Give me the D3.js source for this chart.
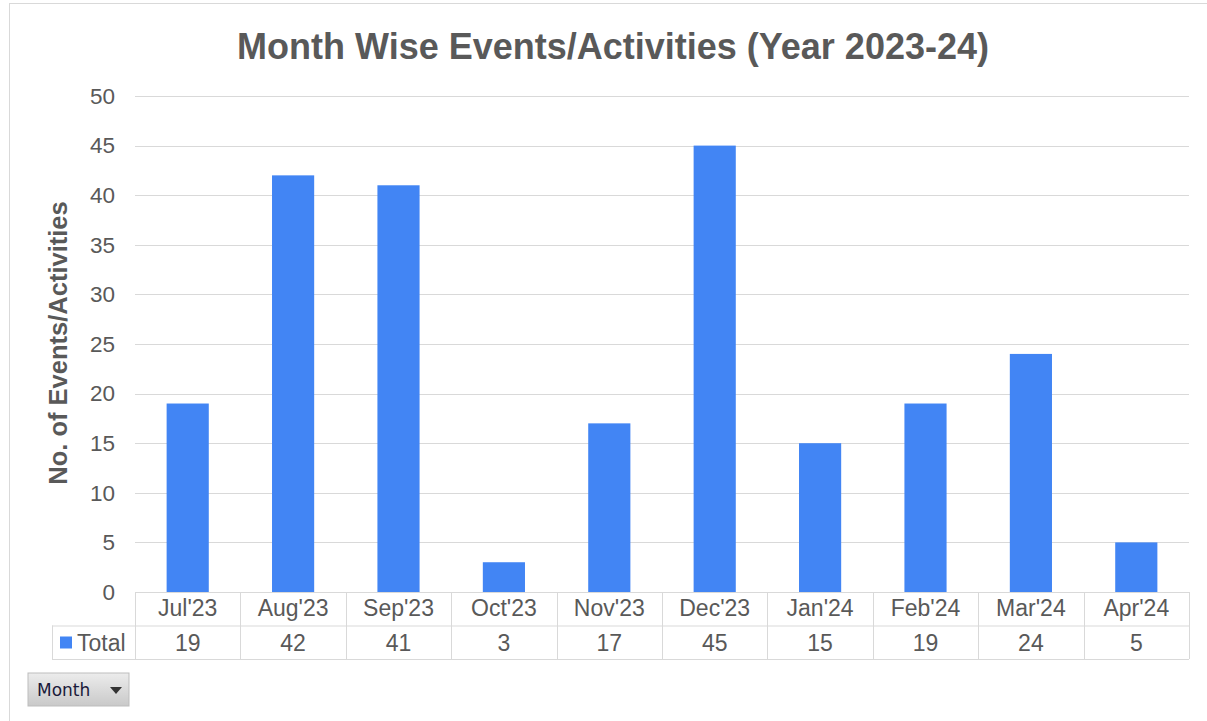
<!DOCTYPE html>
<html>
<head>
<meta charset="utf-8">
<script src="https://cdnjs.cloudflare.com/ajax/libs/d3/7.8.5/d3.min.js"></script>
<style>
  body { margin: 0; background: #fff; }
  svg text { font-family: "Liberation Sans", Arial, sans-serif; }
</style>
</head>
<body>
<script>
var months = ["Jul'23", "Aug'23", "Sep'23", "Oct'23", "Nov'23", "Dec'23", "Jan'24", "Feb'24", "Mar'24", "Apr'24"];
var totals = [19, 42, 41, 3, 17, 45, 15, 19, 24, 5];
var yTicks = [0, 5, 10, 15, 20, 25, 30, 35, 40, 45, 50];

//Width and height
var w = 1207;
var h = 721;
var plotLeft = 135, plotRight = 1189, plotTop = 96, plotBottom = 592;
var rowH = 33.5;
var tickFont = "22.5px";
var tableFont = "23px";

var svg = d3.select("body")
    .append("svg")
    .attr("width", w)
    .attr("height", h);

// gradient for the button
var defs = svg.append("defs");
var grad = defs.append("linearGradient")
    .attr("id", "btn")
    .attr("x1", 0).attr("y1", 0).attr("x2", 0).attr("y2", 1);
grad.append("stop").attr("offset", "0%").attr("stop-color", "#ececec");
grad.append("stop").attr("offset", "100%").attr("stop-color", "#c9c9c9");

// outer frame
svg.append("rect")
    .attr("x", 9.5).attr("y", 3.5)
    .attr("width", 1210).attr("height", 730)
    .attr("fill", "#fff")
    .attr("stroke", "#d9d9d9");

// Scales
var x = d3.scaleBand()
    .domain(months)
    .range([plotLeft, plotRight])
    .paddingInner(0.6)
    .paddingOuter(0.3);

var xCell = d3.scaleBand()
    .domain(months)
    .range([plotLeft, plotRight]);

var y = d3.scaleLinear()
    .domain([0, 50])
    .range([plotBottom, plotTop]);

// gridlines
svg.append("g")
    .selectAll("line")
    .data(yTicks)
    .enter()
    .append("line")
    .attr("x1", plotLeft)
    .attr("x2", plotRight)
    .attr("y1", function (d) { return Math.round(y(d)) + 0.5; })
    .attr("y2", function (d) { return Math.round(y(d)) + 0.5; })
    .attr("stroke", "#d9d9d9")
    .attr("stroke-width", 1);

// y axis
var yAxis = d3.axisLeft(y)
    .tickValues(yTicks)
    .tickSize(0)
    .tickPadding(20);

var gy = svg.append("g")
    .attr("transform", "translate(" + plotLeft + ",0)")
    .call(yAxis);
gy.select(".domain").remove();
gy.selectAll("text")
    .attr("font-size", tickFont)
    .attr("fill", "#595959")
    .style("font-family", "'Liberation Sans', Arial, sans-serif");

// bars
svg.selectAll("rect.bar")
    .data(totals)
    .enter()
    .append("rect")
    .attr("class", "bar")
    .attr("x", function (d, i) { return x(months[i]); })
    .attr("y", function (d) { return y(d); })
    .attr("width", x.bandwidth())
    .attr("height", function (d) { return y(0) - y(d); })
    .attr("fill", "#4285f4");

// data table
var table = svg.append("g");
var lineColor = "#d9d9d9";

// horizontal lines
table.append("line").attr("x1", plotLeft).attr("x2", plotRight)
    .attr("y1", plotBottom + 0.5).attr("y2", plotBottom + 0.5).attr("stroke", lineColor);
table.append("line").attr("x1", 52).attr("x2", plotRight)
    .attr("y1", plotBottom + rowH + 0.5).attr("y2", plotBottom + rowH + 0.5).attr("stroke", lineColor);
table.append("line").attr("x1", 52).attr("x2", plotRight)
    .attr("y1", plotBottom + 2 * rowH + 0.5).attr("y2", plotBottom + 2 * rowH + 0.5).attr("stroke", lineColor);

// vertical lines
var vx = months.map(function (m) { return xCell(m); }).concat([plotRight]);
table.selectAll("line.v")
    .data(vx)
    .enter()
    .append("line")
    .attr("class", "v")
    .attr("x1", function (d) { return Math.round(d) + 0.5; })
    .attr("x2", function (d) { return Math.round(d) + 0.5; })
    .attr("y1", plotBottom)
    .attr("y2", plotBottom + 2 * rowH)
    .attr("stroke", lineColor);
table.append("line")
    .attr("x1", 52.5).attr("x2", 52.5)
    .attr("y1", plotBottom + rowH).attr("y2", plotBottom + 2 * rowH)
    .attr("stroke", lineColor);

// month labels
table.selectAll("text.month")
    .data(months)
    .enter()
    .append("text")
    .attr("class", "month")
    .text(function (d) { return d; })
    .attr("x", function (d) { return xCell(d) + xCell.bandwidth() / 2; })
    .attr("y", plotBottom + 24)
    .attr("text-anchor", "middle")
    .attr("font-size", tableFont)
    .attr("fill", "#595959");

// values
table.selectAll("text.val")
    .data(totals)
    .enter()
    .append("text")
    .attr("class", "val")
    .text(function (d) { return d; })
    .attr("x", function (d, i) { return xCell(months[i]) + xCell.bandwidth() / 2; })
    .attr("y", plotBottom + rowH + 25)
    .attr("text-anchor", "middle")
    .attr("font-size", tableFont)
    .attr("fill", "#595959");

// legend key
table.append("rect")
    .attr("x", 60).attr("y", plotBottom + rowH + 11)
    .attr("width", 12).attr("height", 12)
    .attr("fill", "#4285f4");
table.append("text")
    .text("Total")
    .attr("x", 77)
    .attr("y", plotBottom + rowH + 25)
    .attr("font-size", tableFont)
    .attr("fill", "#595959");

// title
svg.append("text")
    .text("Month Wise Events/Activities (Year 2023-24)")
    .attr("x", 613)
    .attr("y", 59)
    .attr("text-anchor", "middle")
    .attr("font-size", "36px")
    .attr("font-weight", "bold")
    .attr("fill", "#595959");

// y label
svg.append("text")
    .text("No. of Events/Activities")
    .attr("transform", "translate(67,343) rotate(-90)")
    .attr("text-anchor", "middle")
    .attr("font-size", "25.5px")
    .attr("font-weight", "bold")
    .attr("fill", "#595959");

// Month button
var btn = svg.append("g").attr("transform", "translate(28,673)");
btn.append("rect")
    .attr("width", 101).attr("height", 33)
    .attr("fill", "url(#btn)")
    .attr("stroke", "#bdbdbd");
btn.append("text")
    .text("Month")
    .attr("x", 9).attr("y", 23)
    .attr("fill", "#1a1a3a")
    .style("font-family", "'DejaVu Sans', sans-serif")
    .style("font-size", "17px");
btn.append("path")
    .attr("d", "M82,14 L94,14 L88,21 Z")
    .attr("fill", "#333");
</script>
</body>
</html>
